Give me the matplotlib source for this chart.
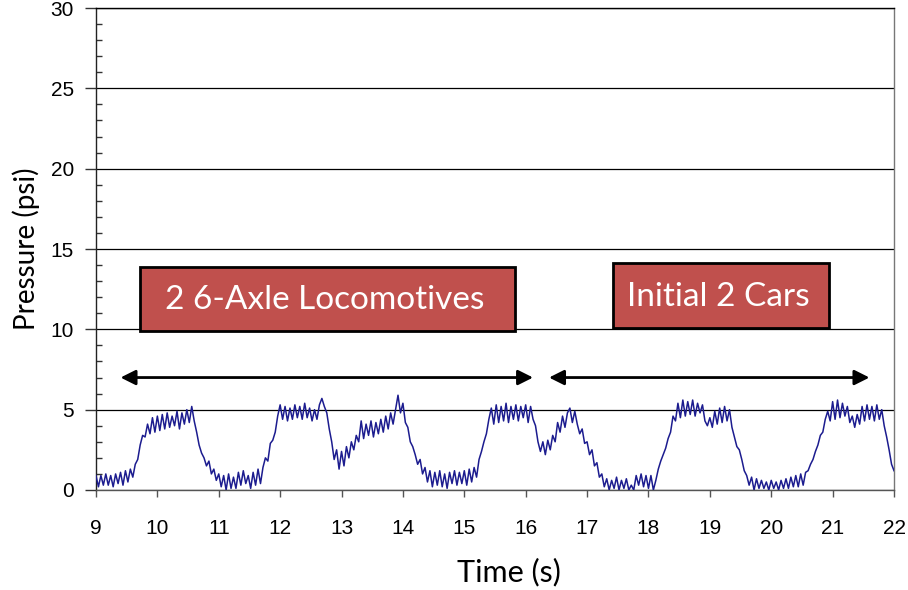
import numpy as np
import matplotlib
matplotlib.use("Agg")
import matplotlib.pyplot as plt
from matplotlib.patches import Rectangle

plt.rcParams["font.family"] = ["Liberation Sans", "DejaVu Sans"]

# pressure trace, 25 samples per second from 9 s to 22 s
pressure_psi = [
    # 9 s
    0.9, 0.2, 0.9, 0.3, 1.0, 0.3, 0.9, 0.2, 1.0, 0.4, 1.1, 0.3, 1.2, 0.5, 1.3, 0.8, 1.6, 1.9, 2.8, 3.4, 3.3, 4.1, 3.5, 4.5, 3.6,
    # 10 s
    4.6, 3.7, 4.7, 3.8, 4.8, 3.9, 4.6, 4.0, 4.9, 3.8, 4.8, 4.1, 5.0, 4.2, 5.2, 4.3, 3.6, 2.8, 2.3, 2.0, 1.5, 1.8, 1.0, 1.3, 0.6,
    # 11 s
    1.0, 0.2, 0.9, 0.0, 1.0, 0.1, 0.8, 0.1, 1.1, 0.3, 1.2, 0.4, 0.9, 0.1, 1.1, 0.3, 1.3, 0.4, 1.4, 2.0, 1.8, 2.9, 3.1, 3.6, 4.6,
    # 12 s
    5.3, 4.4, 5.2, 4.3, 5.1, 4.4, 5.3, 4.5, 5.2, 4.4, 5.4, 4.5, 5.1, 4.3, 5.0, 4.4, 5.3, 5.7, 5.2, 4.8, 3.8, 3.0, 1.9, 2.5, 1.3,
    # 13 s
    2.4, 1.5, 2.7, 2.0, 3.0, 2.5, 3.4, 3.0, 4.3, 3.2, 4.1, 3.4, 4.3, 3.3, 4.2, 3.5, 4.4, 3.6, 4.6, 3.8, 4.8, 4.1, 5.0, 5.9, 4.8,
    # 14 s
    5.4, 4.2, 3.9, 3.0, 2.7, 2.2, 1.6, 1.9, 1.0, 1.4, 0.5, 1.2, 0.2, 1.1, 0.3, 1.2, 0.2, 1.0, 0.1, 1.1, 0.4, 1.2, 0.3, 1.1, 0.4,
    # 15 s
    1.2, 0.3, 1.3, 0.5, 1.4, 0.8, 1.9, 2.4, 3.0, 3.5, 4.4, 5.1, 4.1, 5.3, 4.2, 5.2, 4.3, 5.4, 4.2, 5.2, 4.4, 5.3, 4.3, 5.2, 4.5,
    # 16 s
    5.3, 4.2, 5.2, 4.4, 4.0, 3.0, 2.4, 3.0, 2.2, 3.1, 2.5, 3.4, 3.0, 4.2, 3.6, 4.6, 3.9, 4.8, 5.1, 4.2, 4.9, 4.1, 3.5, 3.8, 2.9,
    # 17 s
    3.0, 2.2, 2.5, 1.5, 1.7, 0.8, 1.0, 0.2, 0.7, 0.0, 0.6, 0.1, 0.8, 0.0, 0.6, 0.1, 0.7, 0.0, 0.3, 0.0, 0.9, 0.3, 1.0, 0.2, 0.9,
    # 18 s
    0.1, 0.9, 0.0, 0.6, 1.3, 1.8, 2.2, 2.6, 3.2, 3.6, 4.6, 4.3, 5.4, 4.5, 5.6, 4.6, 5.5, 4.7, 5.6, 4.6, 5.4, 4.8, 5.3, 4.3, 4.0,
    # 19 s
    4.5, 3.9, 4.9, 4.1, 5.1, 4.2, 5.2, 4.3, 5.0, 3.9, 3.3, 2.7, 2.5, 1.9, 1.2, 0.9, 0.3, 0.8, 0.0, 0.7, 0.1, 0.6, 0.1, 0.5, 0.0,
    # 20 s
    0.6, 0.1, 0.5, 0.0, 0.6, 0.1, 0.7, 0.1, 0.8, 0.2, 0.9, 0.2, 1.0, 0.3, 1.1, 1.2, 1.6, 1.9, 2.4, 2.8, 3.4, 3.6, 4.4, 4.9, 4.3,
    # 21 s
    5.5, 4.4, 5.6, 4.5, 5.4, 4.6, 5.2, 4.2, 4.6, 3.9, 4.7, 4.1, 5.2, 4.3, 5.3, 4.4, 5.2, 4.3, 5.3, 4.4, 5.0, 4.0, 3.3, 2.5, 1.6,
    # 22 s
    1.2,
]
time_s = np.linspace(9, 22, len(pressure_psi))

box_labels = ["2 6-Axle Locomotives", "Initial 2 Cars"]
x_ticks = list(range(9, 23))
y_ticks = [0, 5, 10, 15, 20, 25, 30]

fig = plt.figure(figsize=(9.08, 5.90), dpi=100)
ax = fig.add_axes([0.1057, 0.1695, 0.8789, 0.8169])

ax.plot(time_s, pressure_psi, color="#1c1c8f", lw=1.1, zorder=3)

ax.set_xlim(9, 22)
ax.set_ylim(0, 30)
ax.set_xticks(x_ticks)
ax.set_yticks(y_ticks)
ax.set_yticks(np.arange(0, 31, 1), minor=True)
ax.yaxis.grid(True, color="black", lw=0.9)
ax.set_axisbelow(True)

ax.tick_params(axis="x", which="major", direction="out", length=5, width=1,
               pad=16, labelsize=15, colors="#555555", labelcolor="black")
ax.tick_params(axis="y", which="major", direction="out", length=8, width=1,
               pad=8, labelsize=15, colors="#333333", labelcolor="black")
ax.tick_params(axis="y", which="minor", direction="in", length=4, width=1,
               colors="#333333")

ax.spines["left"].set_color("#222222")
ax.spines["bottom"].set_color("#555555")
ax.spines["right"].set_color("#777777")
ax.spines["top"].set_color("black")
for s in ax.spines.values():
    s.set_linewidth(1)

ax.set_xlabel("Time (s)", family="Lato", fontsize=22)
ax.xaxis.set_label_coords(0.518, -0.14)
ax.set_ylabel("Pressure (psi)", family="Lato", fontsize=20)
ax.yaxis.set_label_coords(-0.07, 0.5)

# labelled boxes
boxes = [(9.72, 9.9, 6.1, 4.0), (17.42, 10.1, 3.52, 4.0)]
for (x0, y0, w, h), txt in zip(boxes, box_labels):
    ax.add_patch(Rectangle((x0, y0), w, h, facecolor="#c0504d",
                           edgecolor="black", lw=2, zorder=4))
    ax.text(x0 + w / 2 - 0.05, y0 + h / 2 - 0.1, txt, ha="center", va="center",
            color="white", family="Lato", fontsize=24, zorder=5)

# double headed arrows
for xa, xb in [(9.4, 16.12), (16.38, 21.6)]:
    ax.annotate("", xy=(xb, 7), xytext=(xa, 7),
                arrowprops=dict(arrowstyle="<|-|>,head_length=0.9,head_width=0.45",
                                color="black", lw=2, shrinkA=0, shrinkB=0),
                zorder=5)

fig.savefig("out.png", dpi=100)
